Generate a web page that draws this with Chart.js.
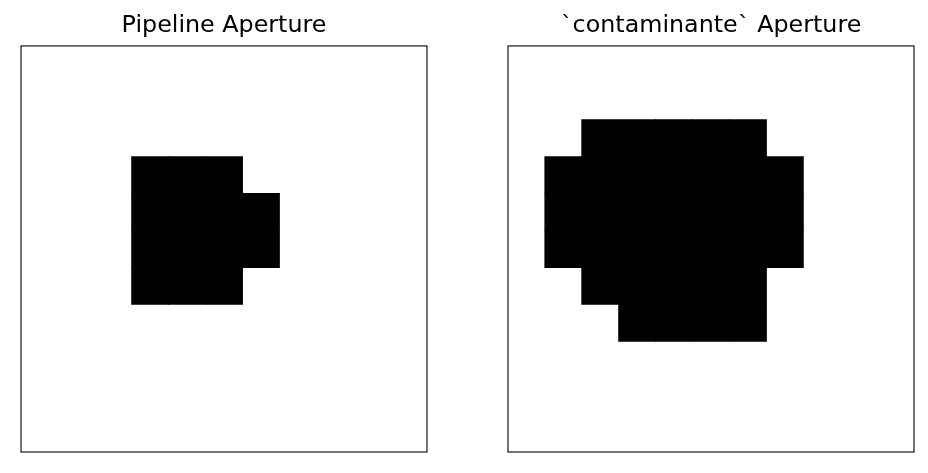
<!DOCTYPE html>
<html>
<head>
<meta charset="utf-8">
<script src="https://cdn.jsdelivr.net/npm/chart.js@4/dist/chart.umd.min.js"></script>
<style>
  html, body { margin: 0; padding: 0; background: #fff; }
  .wrap { position: absolute; top: 0; height: 473px; }
  #w1 { left: 0; width: 464px; }
  #w2 { left: 464px; width: 464px; }
</style>
</head>
<body>
<div class="wrap" id="w1"><canvas id="pipeline"></canvas></div>
<div class="wrap" id="w2"><canvas id="contam"></canvas></div>
<script>
// aperture masks, 11 x 11 pixels, row 0 at top
var columns = ["0","1","2","3","4","5","6","7","8","9","10"];
var pipelineMask = [
  [0,0,0,0,0,0,0,0,0,0,0],
  [0,0,0,0,0,0,0,0,0,0,0],
  [0,0,0,0,0,0,0,0,0,0,0],
  [0,0,0,1,1,1,0,0,0,0,0],
  [0,0,0,1,1,1,1,0,0,0,0],
  [0,0,0,1,1,1,1,0,0,0,0],
  [0,0,0,1,1,1,0,0,0,0,0],
  [0,0,0,0,0,0,0,0,0,0,0],
  [0,0,0,0,0,0,0,0,0,0,0],
  [0,0,0,0,0,0,0,0,0,0,0],
  [0,0,0,0,0,0,0,0,0,0,0]
];
var contamMask = [
  [0,0,0,0,0,0,0,0,0,0,0],
  [0,0,0,0,0,0,0,0,0,0,0],
  [0,0,1,1,1,1,1,0,0,0,0],
  [0,1,1,1,1,1,1,1,0,0,0],
  [0,1,1,1,1,1,1,1,0,0,0],
  [0,1,1,1,1,1,1,1,0,0,0],
  [0,0,1,1,1,1,1,0,0,0,0],
  [0,0,0,1,1,1,1,0,0,0,0],
  [0,0,0,0,0,0,0,0,0,0,0],
  [0,0,0,0,0,0,0,0,0,0,0],
  [0,0,0,0,0,0,0,0,0,0,0]
];

// one floating-bar dataset per row, bars overlap (grouped:false)
function maskDatasets(mask) {
  var sets = [];
  for (var r = 0; r < mask.length; r++) {
    var d = [];
    for (var c = 0; c < mask[r].length; c++) {
      d.push(mask[r][c] ? [r, r + 1] : null);
    }
    sets.push({
      data: d,
      backgroundColor: "#000",
      borderWidth: 0,
      inflateAmount: 0.5,
      grouped: false,
      barPercentage: 1,
      categoryPercentage: 1
    });
  }
  return sets;
}

var frame = {
  id: "frame",
  afterDraw: function(chart) {
    var a = chart.chartArea, ctx = chart.ctx;
    ctx.save();
    ctx.strokeStyle = "#000";
    ctx.lineWidth = 1.1;
    ctx.strokeRect(a.left, a.top, a.right - a.left, a.bottom - a.top);
    ctx.restore();
  }
};

function makeChart(id, title, mask, padL, padR) {
  new Chart(document.getElementById(id), {
    type: "bar",
    data: { labels: columns, datasets: maskDatasets(mask) },
    options: {
      responsive: true,
      maintainAspectRatio: false,
      animation: false,
      layout: { padding: { left: padL, right: padR, top: 0, bottom: 21 } },
      scales: {
        x: { display: false, offset: true },
        y: { display: false, min: 0, max: 11, reverse: true }
      },
      plugins: {
        legend: { display: false },
        tooltip: { enabled: false },
        title: {
          display: true,
          text: title,
          color: "#000",
          font: { family: "'DejaVu Sans', sans-serif", size: 23.8, weight: "normal", lineHeight: 1.2 },
          padding: { top: 11.8, bottom: 5.6 }
        }
      }
    },
    plugins: [frame]
  });
}

makeChart("pipeline", "Pipeline Aperture", pipelineMask, 21, 37);
makeChart("contam", "`contaminante` Aperture", contamMask, 44, 14);
</script>
</body>
</html>
